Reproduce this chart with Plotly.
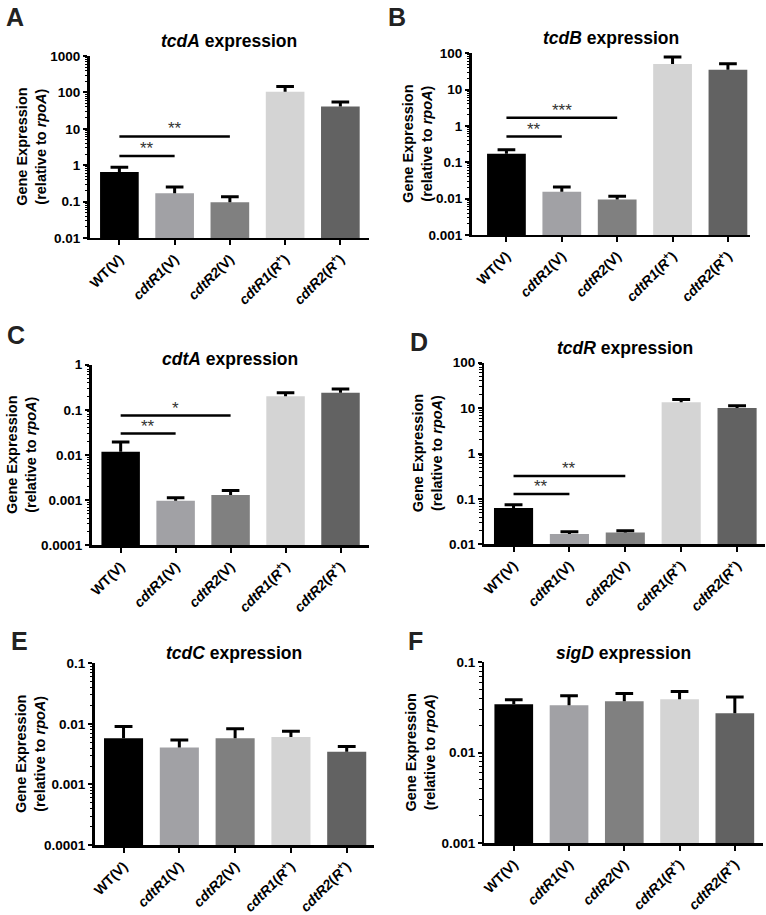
import math
import plotly.graph_objects as go

W, H = 766, 915
FONT = "Arial, Liberation Sans, sans-serif"

# ---------------- data ----------------
categories = ["WT(V)", "cdtR1(V)", "cdtR2(V)", "cdtR1(R+)", "cdtR2(R+)"]
tick_labels = [
    "<b>WT(V)</b>",
    "<b><i>cdtR1</i>(V)</b>",
    "<b><i>cdtR2</i>(V)</b>",
    "<b><i>cdtR1</i>(<i>R</i><sup>+</sup>)</b>",
    "<b><i>cdtR2</i>(<i>R</i><sup>+</sup>)</b>",
]
bar_colors = ["#000000", "#a1a1a5", "#808080", "#d4d4d4", "#626262"]

genes = ["tcdA", "tcdB", "cdtA", "tcdR", "tcdC", "sigD"]
panel_letters = ["A", "B", "C", "D", "E", "F"]

tcdA_mean = [0.65, 0.17, 0.095, 105, 41]
tcdA_err = [0.88, 0.25, 0.135, 145, 55]
tcdB_mean = [0.171, 0.0155, 0.0094, 50, 35]
tcdB_err = [0.22, 0.021, 0.0116, 78, 51]
cdtA_mean = [0.0118, 0.00097, 0.0013, 0.20, 0.24]
cdtA_err = [0.0195, 0.00114, 0.00165, 0.24, 0.29]
tcdR_mean = [0.0637, 0.0169, 0.0184, 13.5, 10.0]
tcdR_err = [0.075, 0.019, 0.020, 15.4, 11.2]
tcdC_mean = [0.00578, 0.00408, 0.00578, 0.00607, 0.00347]
tcdC_err = [0.0091, 0.0054, 0.0083, 0.0076, 0.00424]
sigD_mean = [0.0344, 0.0335, 0.037, 0.039, 0.0274]
sigD_err = [0.0386, 0.0427, 0.0452, 0.0475, 0.0413]

# y-axis decade limits (log10) and tick labels
tcdA_ylim = (-2, 3); tcdA_yticks = ["0.01", "0.1", "1", "10", "100", "1000"]
tcdB_ylim = (-3, 2); tcdB_yticks = ["0.001", "0.01", "0.1", "1", "10", "100"]
cdtA_ylim = (-4, 0); cdtA_yticks = ["0.0001", "0.001", "0.01", "0.1", "1"]
tcdR_ylim = (-2, 2); tcdR_yticks = ["0.01", "0.1", "1", "10", "100"]
tcdC_ylim = (-4, -1); tcdC_yticks = ["0.0001", "0.001", "0.01", "0.1"]
sigD_ylim = (-3, -1); sigD_yticks = ["0.001", "0.01", "0.1"]

# significance comparisons: (group a, group b, bar level, label)
tcdA_sig = [(0, 2, 6.2, "**"), (0, 1, 1.78, "**")]
tcdB_sig = [(0, 2, 1.67, "***"), (0, 1, 0.51, "**")]
cdtA_sig = [(0, 2, 0.0747, "*"), (0, 1, 0.0298, "**")]
tcdR_sig = [(0, 2, 0.32, "**"), (0, 1, 0.128, "**")]
tcdC_sig = []
sigD_sig = []

means = [tcdA_mean, tcdB_mean, cdtA_mean, tcdR_mean, tcdC_mean, sigD_mean]
errs = [tcdA_err, tcdB_err, cdtA_err, tcdR_err, tcdC_err, sigD_err]
ylims = [tcdA_ylim, tcdB_ylim, cdtA_ylim, tcdR_ylim, tcdC_ylim, sigD_ylim]
yticks = [tcdA_yticks, tcdB_yticks, cdtA_yticks, tcdR_yticks, tcdC_yticks, sigD_yticks]
sigs = [tcdA_sig, tcdB_sig, cdtA_sig, tcdR_sig, tcdC_sig, sigD_sig]

# ---------------- layout geometry (pixels) ----------------
# plot boxes: (x0, x1, ytop, ybottom)
boxes = [
    (86, 367, 50, 235),
    (470, 750, 47, 232),
    (88, 367, 364, 548),
    (483, 765, 362, 547),
    (91, 372, 668, 853),
    (483, 763, 667, 851),
]
xranges = [
    (-0.54, 4.52), (-0.63, 4.40), (-0.53, 4.52),
    (-0.52, 4.50), (-0.52, 4.49), (-0.53, 4.51),
]
title_y = [35, 32, 358, 347, 658, 657]
letter_pos = [(11, 10), (395, 10), (12, 334), (417, 341), (16, 645), (414, 645)]
ytitle_x = [27, 415, 17, 426, 26, 419]

positions = list(range(len(categories)))
BAR_W = 0.7
CAP = 0.16

fig = go.Figure()
layout = dict(
    width=W, height=H, margin=dict(l=0, r=0, t=0, b=0),
    paper_bgcolor="white", plot_bgcolor="white", showlegend=False,
    font=dict(family=FONT, color="black"),
)
annotations = []

for k in range(6):
    xa = "x" if k == 0 else f"x{k+1}"
    ya = "y" if k == 0 else f"y{k+1}"
    xkey = "xaxis" if k == 0 else f"xaxis{k+1}"
    ykey = "yaxis" if k == 0 else f"yaxis{k+1}"
    x0, x1, yt, yb = boxes[k]

    fig.add_trace(go.Bar(
        x=positions, y=means[k], width=BAR_W,
        marker=dict(color=bar_colors, line=dict(width=0)),
        xaxis=xa, yaxis=ya, hoverinfo="skip",
    ))
    # upper error bars with caps
    ex, ey = [], []
    for i, (m, e) in enumerate(zip(means[k], errs[k])):
        ex += [i, i, None, i - CAP, i + CAP, None]
        ey += [m, e, None, e, e, None]
    fig.add_trace(go.Scatter(
        x=ex, y=ey, mode="lines", line=dict(color="black", width=3),
        xaxis=xa, yaxis=ya, hoverinfo="skip",
    ))
    # significance bars
    for (a, b, lvl, lab) in sigs[k]:
        fig.add_trace(go.Scatter(
            x=[a, b], y=[lvl, lvl], mode="lines",
            line=dict(color="black", width=2.5),
            xaxis=xa, yaxis=ya, hoverinfo="skip",
        ))
        annotations.append(dict(
            x=(a + b) / 2, y=math.log10(lvl), xref=xa, yref=ya,
            text=lab, showarrow=False, yanchor="bottom", yshift=-4,
            font=dict(size=17, color="#333333", family=FONT),
        ))

    lo, hi = ylims[k]
    major = [10.0 ** d for d in range(lo, hi + 1)]
    minor = [m * 10.0 ** d for d in range(lo, hi) for m in range(2, 10)]

    layout[xkey] = dict(
        domain=[x0 / W, x1 / W], range=list(xranges[k]), anchor=ya,
        tickmode="array", tickvals=positions, ticktext=tick_labels,
        tickangle=-45, ticks="outside", ticklen=5, tickwidth=2,
        tickcolor="black", showline=True, linecolor="black", linewidth=2.5,
        showgrid=False, zeroline=False,
        tickfont=dict(size=14, family=FONT, color="black"),
    )
    layout[ykey] = dict(
        domain=[1 - yb / H, 1 - yt / H], type="log", range=[lo, hi],
        anchor=xa, tickmode="array", tickvals=major,
        ticktext=[f"<b>{t}</b>" for t in yticks[k]],
        ticks="outside", ticklen=4, tickwidth=2, tickcolor="black",
        showline=True, linecolor="black", linewidth=2.5,
        showgrid=False, zeroline=False,
        tickfont=dict(size=13.5, family=FONT, color="black"),
        minor=dict(tickmode="array", tickvals=minor, ticks="outside",
                   ticklen=2.5, tickwidth=1, tickcolor="black", showgrid=False),
    )

    # panel title
    annotations.append(dict(
        x=(x0 + x1) / 2 / W, y=1 - title_y[k] / H, xref="paper", yref="paper",
        text=f"<b><i>{genes[k]}</i> expression</b>", showarrow=False,
        xanchor="center", yanchor="middle",
        font=dict(size=17.5, family=FONT, color="black"),
    ))
    # panel letter
    lx, ly = letter_pos[k]
    annotations.append(dict(
        x=lx / W, y=1 - ly / H, xref="paper", yref="paper",
        text=f"<b>{panel_letters[k]}</b>", showarrow=False,
        xanchor="center", yanchor="middle",
        font=dict(size=25, family=FONT, color="#222222"),
    ))
    # y-axis title
    annotations.append(dict(
        x=ytitle_x[k] / W, y=1 - (yt + yb) / 2 / H, xref="paper", yref="paper",
        text="<b>Gene Expression</b><br><b>(relative to <i>rpoA</i>)</b>",
        showarrow=False, textangle=-90, xanchor="center", yanchor="middle",
        font=dict(size=14.5, family=FONT, color="black"),
    ))

layout["annotations"] = annotations
fig.update_layout(**layout)
fig.write_html(
    "out.html",
    config={"displayModeBar": False, "staticPlot": True},
    post_script="document.body.style.margin='0';document.body.style.overflow='hidden';",
)
